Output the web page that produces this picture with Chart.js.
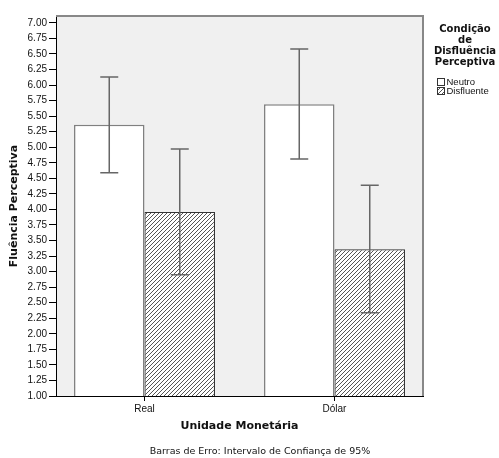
<!DOCTYPE html>
<html>
<head>
<meta charset="utf-8">
<script src="https://cdn.jsdelivr.net/npm/chart.js@4.4.1/dist/chart.umd.min.js"></script>
<style>
  html, body { margin: 0; padding: 0; background: #fff; }
  #wrap { width: 499px; height: 458px; }
</style>
</head>
<body>
<div id="wrap"><canvas id="myChart" width="499" height="458"></canvas></div>
<script>
const categories = ['Real', 'Dólar'];
const conditions = ['Neutro', 'Disfluente'];
const neutroMeans = [5.36, 5.69];
const neutroLower = [4.59, 4.81];
const neutroUpper = [6.13, 6.58];
const disfluenteMeans = [3.96, 3.36];
const disfluenteLower = [2.95, 2.34];
const disfluenteUpper = [4.97, 4.39];
const yMin = 1;
const yMax = 7;
const yStep = 0.25;
const legendTitle = ['Condição', 'de', 'Disfluência', 'Perceptiva'];
const caption = 'Barras de Erro: Intervalo de Confiança de 95%';

// hatch pattern for the Disfluente bars
const makeHatch = () => {
  const c = document.createElement('canvas');
  c.width = 4;
  c.height = 4;
  const g = c.getContext('2d');
  g.fillStyle = '#fff';
  g.fillRect(0, 0, 4, 4);
  g.strokeStyle = '#2a2a2a';
  g.lineWidth = 0.8;
  g.beginPath();
  g.moveTo(-1, 5); g.lineTo(5, -1);
  g.moveTo(-1, 1); g.lineTo(1, -1);
  g.moveTo(3, 5); g.lineTo(5, 3);
  g.stroke();
  return g.createPattern(c, 'repeat');
};
const ctx = document.getElementById('myChart').getContext('2d');
const hatch = makeHatch();

const errors = [
  { lower: neutroLower, upper: neutroUpper },
  { lower: disfluenteLower, upper: disfluenteUpper },
];

const plotFrame = {
  id: 'plotFrame',
  beforeDraw(chart) {
    const { ctx, chartArea: a } = chart;
    ctx.save();
    ctx.fillStyle = '#f0f0f0';
    ctx.fillRect(a.left, a.top, a.right - a.left, a.bottom - a.top);
    ctx.restore();
  },
  afterDatasetsDraw(chart) {
    const { ctx, chartArea: a } = chart;
    const yScale = chart.scales.y;
    ctx.save();
    ctx.strokeStyle = '#666';
    ctx.lineWidth = 1.5;
    chart.data.datasets.forEach((ds, di) => {
      const meta = chart.getDatasetMeta(di);
      meta.data.forEach((bar, i) => {
        const x = bar.x;
        const yt = yScale.getPixelForValue(errors[di].upper[i]);
        const yb = yScale.getPixelForValue(errors[di].lower[i]);
        ctx.beginPath();
        ctx.moveTo(x, yt); ctx.lineTo(x, yb);
        ctx.moveTo(x - 9, yt); ctx.lineTo(x + 9, yt);
        ctx.moveTo(x - 9, yb); ctx.lineTo(x + 9, yb);
        ctx.stroke();
      });
    });
    // top and right frame
    ctx.strokeStyle = '#888';
    ctx.lineWidth = 2;
    ctx.beginPath();
    ctx.moveTo(a.left, a.top);
    ctx.lineTo(a.right, a.top);
    ctx.lineTo(a.right, a.bottom);
    ctx.stroke();
    ctx.restore();
  },
  afterDraw(chart) {
    const { ctx } = chart;
    ctx.save();
    ctx.fillStyle = '#111';
    ctx.textAlign = 'center';
    ctx.textBaseline = 'middle';
    ctx.font = 'bold 10px "DejaVu Sans"';
    legendTitle.forEach((t, i) => ctx.fillText(t, 465, 29 + i * 11));
    // legend items
    ctx.font = '9.5px "Liberation Sans"';
    ctx.textAlign = 'left';
    const fills = ['#fff', hatch];
    conditions.forEach((c, i) => {
      const y = 78 + i * 9;
      ctx.fillStyle = fills[i];
      ctx.fillRect(437, y, 8, 8);
      ctx.strokeStyle = '#333';
      ctx.lineWidth = 1;
      ctx.strokeRect(437.5, y + 0.5, 7, 7);
      ctx.fillStyle = '#111';
      ctx.fillText(c, 446.5, y + 4.5);
    });
    ctx.font = '9.5px "DejaVu Sans"';
    ctx.textAlign = 'center';
    ctx.fillText(caption, 260, 452);
    ctx.restore();
  },
};

new Chart(ctx, {
  type: 'bar',
  data: {
    datasets: [
      {
        label: conditions[0],
        data: neutroMeans.map((v, i) => ({ x: i, y: v })),
        backgroundColor: '#fff',
        borderColor: '#808080',
        borderWidth: 1.5,
      },
      {
        label: conditions[1],
        data: disfluenteMeans.map((v, i) => ({ x: i, y: v })),
        backgroundColor: hatch,
        borderColor: '#333',
        borderWidth: 1.2,
      },
    ],
  },
  options: {
    responsive: false,
    animation: false,
    devicePixelRatio: 1,
    categoryPercentage: 0.742,
    barPercentage: 1,
    layout: { padding: { top: 16, right: 76, left: 0, bottom: 22 } },
    plugins: {
      legend: { display: false },
      tooltip: { enabled: false },
    },
    scales: {
      x: {
        type: 'linear',
        min: -0.4658,
        max: 1.4658,
        offset: false,
        afterBuildTicks: (scale) => {
          scale.ticks = categories.map((c, i) => ({ value: i }));
        },
        afterFit: (scale) => { scale.height = 40; },
        ticks: {
          callback: (v) => categories[v],
          font: { family: 'Liberation Sans', size: 10 },
          color: '#111',
          padding: 2,
          maxRotation: 0,
        },
        grid: { display: true, offset: false, drawOnChartArea: false, drawTicks: true, tickLength: 5, color: '#000' },
        border: { display: true, color: '#000', width: 1 },
        title: {
          display: true,
          text: 'Unidade Monetária',
          font: { family: 'DejaVu Sans', size: 11, weight: 'bold' },
          color: '#111',
          padding: { top: 0, bottom: 3 },
        },
      },
      y: {
        min: yMin,
        max: yMax + 0.11,
        afterBuildTicks: (scale) => {
          scale.ticks = scale.ticks.filter((t) => t.value <= yMax + 0.001);
        },
        afterFit: (scale) => { scale.width = 56; },
        ticks: {
          stepSize: yStep,
          includeBounds: false,
          autoSkip: false,
          callback: (v) => v.toFixed(2),
          font: { family: 'Liberation Sans', size: 10 },
          color: '#111',
          padding: 2,
        },
        grid: { display: true, drawOnChartArea: false, drawTicks: true, tickLength: 7, color: '#000' },
        border: { display: true, color: '#000', width: 1 },
        title: {
          display: true,
          text: 'Fluência Perceptiva',
          font: { family: 'DejaVu Sans', size: 11, weight: 'bold' },
          color: '#111',
          padding: { top: 8, bottom: 0 },
        },
      },
    },
  },
  plugins: [plotFrame],
});
</script>
</body>
</html>
